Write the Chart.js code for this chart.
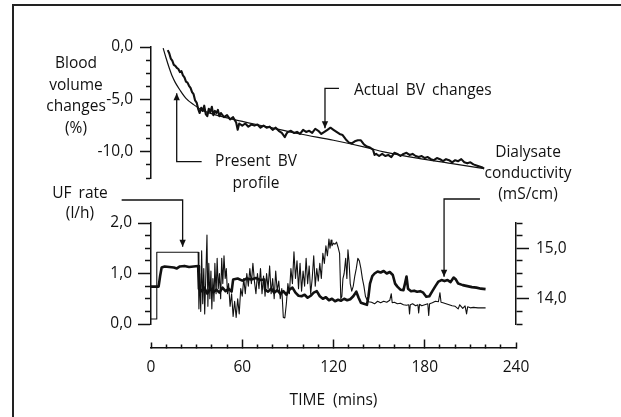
<!DOCTYPE html>
<html>
<head>
<meta charset="utf-8">
<script src="https://cdn.jsdelivr.net/npm/chart.js@4.4.1/dist/chart.umd.min.js"></script>
<style>
  html, body { margin: 0; padding: 0; background: #fff; }
  #fig { position: relative; width: 621px; height: 417px; overflow: hidden;
         font-family: "Open Sans", sans-serif; color: #111; }
  #fig canvas { position: absolute; left: 0; top: 0; }
  .frame { position: absolute; left: 12px; top: 4px; right: -4px; bottom: -4px;
           border-top: 2px solid #222; border-left: 2px solid #222; }
  .lbl { position: absolute; font-size: 15.5px; text-align: center; white-space: nowrap;
         word-spacing: 3px; transform: translateX(-50%); }
</style>
</head>
<body>
<div id="fig">
  <div class="frame"></div>
  <canvas id="bvChart" width="621" height="417"></canvas>
  <canvas id="ufChart" width="621" height="417"></canvas>
  <canvas id="timeChart" width="621" height="417"></canvas>
  <div class="lbl" style="left:76px; top:52px; line-height:21.7px">Blood<br>volume<br>changes<br>(%)</div>
  <div class="lbl" style="left:80px; top:182px; line-height:20.3px">UF rate<br>(l/h)</div>
  <div class="lbl" style="left:256px; top:149px; line-height:22px">Present BV<br>profile</div>
  <div class="lbl" style="left:354px; top:79px; line-height:21px; transform:none">Actual BV changes</div>
  <div class="lbl" style="left:528px; top:141px; line-height:21px">Dialysate<br>conductivity<br>(mS/cm)</div>
</div>
<script>
// ---- data ----
const bvTime = [11, 12, 13, 14, 15, 16, 17, 18, 19, 20, 21, 22, 23, 24, 25, 26, 27, 28, 29, 30,
  31, 32, 33, 34, 35, 36, 37, 38, 39, 40, 41, 42, 43, 44, 45, 46, 48, 50, 52, 54, 56, 57, 58, 60,
  62, 64, 66, 68, 70, 72, 74, 76, 78, 80, 82, 84, 86, 88, 89, 90, 92, 94, 96, 98, 100, 102, 104,
  106, 108, 110, 112, 114, 116, 118, 120, 122, 124, 126, 128, 130, 132, 134, 136, 138, 140, 142,
  144, 146, 147, 148, 150, 152, 154, 156, 158, 160, 162, 164, 166, 168, 170, 172, 174, 176, 178,
  180, 182, 184, 186, 188, 190, 192, 194, 196, 198, 200, 202, 204, 206, 208, 210, 212, 214, 216,
  218, 219];
const bvActual = [-0.3, -0.6, -1.1, -1.3, -1.7, -1.8, -2.0, -2.1, -2.4, -2.3, -2.7, -2.9, -3.3,
  -3.4, -3.7, -3.9, -4.3, -4.5, -5.1, -5.3, -5.9, -6.3, -5.8, -6.1, -5.6, -6.4, -6.6, -5.9, -6.2,
  -5.7, -6.5, -6.1, -6.3, -6.0, -6.6, -6.3, -6.7, -6.5, -6.9, -6.7, -7.2, -7.9, -7.3, -7.5, -7.3,
  -7.6, -7.4, -7.5, -7.4, -7.7, -7.5, -7.7, -7.6, -7.9, -7.7, -8.0, -8.2, -8.6, -8.3, -8.1, -8.0,
  -8.2, -8.1, -8.3, -7.9, -8.1, -8.0, -8.2, -7.8, -8.0, -8.3, -8.1, -7.9, -7.7, -7.9, -8.1, -8.3,
  -8.4, -8.8, -9.1, -9.2, -9.0, -8.9, -8.9, -9.3, -9.5, -9.6, -9.8, -10.3, -10.2, -10.4, -10.2,
  -10.4, -10.3, -10.5, -10.1, -10.2, -10.4, -10.2, -10.1, -10.3, -10.2, -10.4, -10.5, -10.4,
  -10.6, -10.5, -10.7, -10.8, -10.6, -10.7, -10.9, -10.7, -10.8, -11.0, -10.8, -10.9, -10.7,
  -11.0, -11.1, -11.0, -11.2, -11.3, -11.4, -11.5, -11.6];

const profileTime = [8, 10, 12, 14, 16, 19, 23, 28, 34, 43, 54, 76, 98, 120, 142, 153, 175, 197, 219];
const bvProfile = [-0.1, -1.1, -2.0, -2.8, -3.4, -4.1, -4.9, -5.5, -6.05, -6.5, -6.9, -7.6, -8.3,
  -8.9, -9.6, -10.0, -10.6, -11.1, -11.6];

const ufTime = [0, 3.8, 3.8, 31, 31.5, 32, 32.7, 33.3, 34, 34.7, 35.3, 36, 36.8, 37.4, 38, 38.7,
  39.4, 40, 40.7, 41.4, 42, 42.8, 43.5, 44.2, 45, 45.8, 46.5, 47.2, 48, 48.8, 49.5, 50.3, 51, 52,
  53, 54, 55, 56, 57, 58, 59, 60, 61, 62, 63, 64, 65, 66, 67, 68, 69, 70, 71, 72, 73, 74, 75, 76,
  77, 78, 79, 80, 81, 82, 83, 84, 85, 86, 87, 88, 89, 90, 91, 92, 93, 94, 95, 96, 97, 98, 99, 100,
  101, 102, 103, 104, 105, 106, 107, 108, 109, 110, 111, 112, 113, 114, 115, 116, 117, 117.7,
  118.4, 119, 120, 121, 122, 123, 124, 124.8, 125.5, 126.2, 127, 128, 128.8, 129.5, 130.3, 131,
  132, 133, 134, 135, 136, 137, 138, 139, 140, 141, 142, 143, 145, 147, 149, 151, 153, 155, 157,
  158, 158.6, 160, 162, 164, 166, 168, 169.5, 170, 170.5, 172, 174, 175.5, 176, 176.6, 178, 180,
  182, 182.6, 183.2, 185, 187, 189, 190, 190.7, 192, 194, 196, 198, 200, 202, 203, 205, 206.5,
  207.5, 208.2, 210, 212, 215, 220];
const ufRate = [0.1, 0.1, 1.42, 1.42, 0.3, 1.0, 0.25, 1.45, 0.4, 1.1, 0.2, 0.9, 1.76, 0.35, 1.2,
  0.5, 1.05, 0.3, 0.9, 0.45, 1.2, 0.6, 1.3, 0.7, 1.0, 0.5, 1.3, 0.8, 1.35, 0.9, 1.1, 0.6, 0.8,
  0.35, 0.6, 0.15, 0.45, 0.13, 0.5, 0.2, 0.7, 0.55, 0.9, 0.6, 1.0, 0.75, 1.1, 0.8, 1.2, 0.85, 0.6,
  1.0, 0.7, 1.1, 0.6, 0.95, 0.55, 1.0, 0.7, 1.15, 0.6, 0.9, 0.5, 1.05, 0.65, 0.85, 0.5, 0.7, 0.13,
  0.12, 0.4, 0.8, 0.6, 1.1, 0.8, 1.43, 0.9, 1.25, 0.7, 1.2, 0.65, 1.05, 0.75, 1.3, 0.8, 1.15, 0.6,
  0.9, 1.35, 0.75, 1.1, 0.85, 1.2, 0.9, 1.4, 1.2, 1.55, 1.35, 1.68, 1.5, 1.66, 1.55, 1.6, 1.58,
  1.62, 1.52, 1.4, 0.5, 0.55, 0.9, 1.0, 1.3, 0.9, 1.47, 1.2, 0.8, 0.65, 0.75, 0.95, 1.1, 1.3, 1.25,
  1.1, 0.9, 0.75, 0.55, 0.48, 0.44, 0.43, 0.4, 0.45, 0.42, 0.45, 0.43, 0.47, 0.6, 0.42, 0.43, 0.4,
  0.41, 0.38, 0.37, 0.38, 0.2, 0.38, 0.4, 0.36, 0.38, 0.22, 0.39, 0.36, 0.38, 0.4, 0.17, 0.4, 0.42,
  0.45, 0.44, 0.62, 0.43, 0.42, 0.4, 0.38, 0.36, 0.35, 0.3, 0.38, 0.31, 0.36, 0.2, 0.34, 0.32,
  0.33, 0.32, 0.32];

const condTime = [0, 5, 6, 7, 9, 12, 15, 17, 19, 22, 25, 28, 31, 31.5, 33, 35, 37, 39, 41, 43, 45,
  47, 49, 51, 53, 54, 57, 60, 63, 66, 69, 72, 74.5, 75, 77, 79, 81, 83, 85, 87, 89, 91, 93, 95, 97,
  99, 101, 103, 105, 107, 109, 111, 113, 115, 117, 119, 121, 123, 125, 127, 129, 131, 133, 135,
  136.5, 138, 140, 142, 143, 144, 145.5, 147, 149, 151, 153, 155, 157, 159, 160.5, 162, 164, 166,
  167, 168, 169, 171, 173, 175, 177, 179, 181, 183, 185, 187, 189, 191, 193, 195, 197, 199, 200.5,
  202, 205, 208, 211, 214, 217, 220];
const condValue = [14.24, 14.24, 14.45, 14.62, 14.64, 14.63, 14.62, 14.6, 14.64, 14.65, 14.63,
  14.64, 14.65, 14.2, 14.15, 14.22, 14.1, 14.2, 14.13, 14.18, 14.12, 14.22, 14.15, 14.2, 14.14,
  14.38, 14.4, 14.36, 14.4, 14.38, 14.41, 14.37, 14.38, 14.18, 14.14, 14.2, 14.12, 14.17, 14.1,
  14.15, 14.08, 14.18, 14.22, 14.12, 14.06, 14.05, 14.08, 14.02, 14.06, 14.12, 14.15, 14.05, 14.0,
  14.03, 13.97, 14.0, 13.95, 13.98, 13.96, 14.0, 13.97, 13.99, 14.05, 14.14, 14.02, 13.92, 13.9,
  13.88, 14.05, 14.3, 14.45, 14.5, 14.54, 14.52, 14.55, 14.5, 14.53, 14.47, 14.3, 14.24, 14.18,
  14.17, 14.3, 14.44, 14.2, 14.15, 14.16, 14.14, 14.15, 14.12, 14.04, 14.05, 14.15, 14.25, 14.34,
  14.37, 14.35, 14.37, 14.33, 14.42, 14.38, 14.3, 14.27, 14.25, 14.23, 14.22, 14.2, 14.19];

const timeTicks = [0, 60, 120, 180, 240];
const bvLabelled = [0, -5, -10];
const ufLabelled = [0, 1, 2];
const condLabelled = [14, 15];

// callout elbows, in data units of the panel they sit on
const presentCallout = [[33.3, -10.94], [16.9, -10.94], [16.9, -4.42]];
const actualCallout = [[123.6, -3.94], [114.4, -3.94], [114.4, -7.76]];
const ufCallout = [[-19.3, 2.455], [20.8, 2.455], [20.8, 1.53]];
const condCallout = [[216.3, 15.975], [192.7, 15.975], [192.7, 14.437]];

// ---- layout ----
const W = 621, H = 417;
const LEFT = 151, RIGHT = 516;
const AXIS_W = 60;
const ink = '#111';
const tickFont = { family: '"Open Sans", sans-serif', size: 15.5 };

Chart.defaults.animation = false;
Chart.defaults.responsive = false;
Chart.defaults.color = ink;
Chart.defaults.plugins.legend.display = false;
Chart.defaults.plugins.tooltip.enabled = false;

const pts = (xs, ys) => xs.map((x, i) => ({ x, y: ys[i] }));
const comma = (v) => v.toFixed(1).replace('.', ',');
const near = (v, list) => list.some((l) => Math.abs(v - l) < 1e-6);

function yAxis(min, max, labelled, pos, longTick, padding) {
  const shortTick = Math.round(longTick * 0.45);
  return {
    position: pos, min, max,
    afterFit: (s) => { s.width = AXIS_W; },
    border: { color: ink, width: 1.5 },
    grid: {
      drawOnChartArea: false, tickLength: longTick, tickColor: ink, tickWidth: 1.5,
      // short ticks keep only the part next to the axis line
      tickBorderDash: (c) => (c.tick && !near(c.tick.value, labelled)) ?
        (pos === 'left' ? [shortTick, longTick - shortTick] : [shortTick, 40]) : [],
      tickBorderDashOffset: (c) => (c.tick && !near(c.tick.value, labelled) && pos === 'left') ? shortTick : 0,
    },
    ticks: {
      stepSize: 0.25 * (max - min > 5 ? 5 : 1), autoSkip: false, padding, font: tickFont, color: ink,
      callback: (v) => near(v, labelled) ? comma(v) : '',
    },
  };
}

const calloutPlugin = {
  id: 'callouts',
  afterDraw(chart, args, opts) {
    const ctx = chart.ctx;
    (opts.items || []).forEach((item) => {
      const xs = chart.scales.x, ys = chart.scales[item.axis || 'y'];
      const p = item.path.map(([t, v]) => [xs.getPixelForValue(t), ys.getPixelForValue(v)]);
      ctx.save();
      ctx.strokeStyle = ink; ctx.fillStyle = ink; ctx.lineWidth = 1.3;
      ctx.beginPath();
      p.forEach(([x, y], i) => (i ? ctx.lineTo(x, y) : ctx.moveTo(x, y)));
      ctx.stroke();
      const [x1, y1] = p[p.length - 2], [x2, y2] = p[p.length - 1];
      const a = Math.atan2(y2 - y1, x2 - x1);
      ctx.translate(x2, y2); ctx.rotate(a);
      ctx.beginPath(); ctx.moveTo(0, 0); ctx.lineTo(-7, -3.2); ctx.lineTo(-7, 3.2); ctx.closePath();
      ctx.fill();
      ctx.restore();
    });
  },
};

// upper panel: blood volume
new Chart(document.getElementById('bvChart'), {
  type: 'line',
  data: {
    datasets: [
      { data: pts(profileTime, bvProfile), borderColor: ink, borderWidth: 1.2, pointRadius: 0,
        tension: 0.4, cubicInterpolationMode: 'monotone' },
      { data: pts(bvTime, bvActual), borderColor: ink, borderWidth: 2.1, pointRadius: 0,
        tension: 0, borderJoinStyle: 'round' },
    ],
  },
  options: {
    layout: { padding: { left: LEFT - AXIS_W, right: W - RIGHT, top: 47, bottom: H - 178 } },
    scales: {
      x: { type: 'linear', min: 0, max: 240, display: false },
      y: yAxis(-12.5, 0, bvLabelled, 'left', 11, 7),
    },
    plugins: { callouts: { items: [{ path: presentCallout }, { path: actualCallout }] } },
  },
  plugins: [calloutPlugin],
});

// lower panel: UF rate (left) and dialysate conductivity (right)
new Chart(document.getElementById('ufChart'), {
  type: 'line',
  data: {
    datasets: [
      { data: pts(ufTime, ufRate), yAxisID: 'y', borderColor: ink, borderWidth: 1.1, pointRadius: 0,
        tension: 0, borderJoinStyle: 'round' },
      { data: pts(condTime, condValue), yAxisID: 'y2', borderColor: ink, borderWidth: 2.6, pointRadius: 0,
        tension: 0, borderJoinStyle: 'round' },
    ],
  },
  options: {
    layout: { padding: { left: LEFT - AXIS_W, right: W - RIGHT - AXIS_W, top: 223, bottom: H - 324 } },
    scales: {
      x: { type: 'linear', min: 0, max: 240, display: false },
      y: yAxis(0, 2, ufLabelled, 'left', 13, 6),
      y2: yAxis(13.5, 15.5, condLabelled, 'right', 13, 7),
    },
    plugins: { callouts: { items: [{ path: ufCallout }, { path: condCallout, axis: 'y2' }] } },
  },
  plugins: [calloutPlugin],
});

// shared time axis
new Chart(document.getElementById('timeChart'), {
  type: 'line',
  data: { datasets: [] },
  options: {
    layout: { padding: { left: LEFT, right: W - RIGHT, top: 340, bottom: H - 347.5 - 62.5 } },
    scales: {
      x: {
        type: 'linear', position: 'bottom', min: 0, max: 240,
        afterFit: (s) => { s.height = 62.5; },
        border: { color: ink, width: 1.5 },
        grid: {
          drawOnChartArea: false, tickLength: -8, tickColor: ink, tickWidth: 1.5,
          tickBorderDash: (c) => {
            if (!c.tick) return [];
            const v = c.tick.value;
            if (v === 0 || v === 240) return [6, 30];
            return near(v, timeTicks) ? [] : [4, 30];
          },
        },
        ticks: { stepSize: 10, autoSkip: false, maxRotation: 0, padding: 19, font: tickFont, color: ink,
          callback: (v) => near(v, timeTicks) ? String(v) : '' },
        title: { display: true, text: 'TIME  (mins)', padding: 0, color: ink, font: tickFont },
      },
      y: { display: false, min: 0, max: 1 },
    },
  },
});
</script>
</body>
</html>
